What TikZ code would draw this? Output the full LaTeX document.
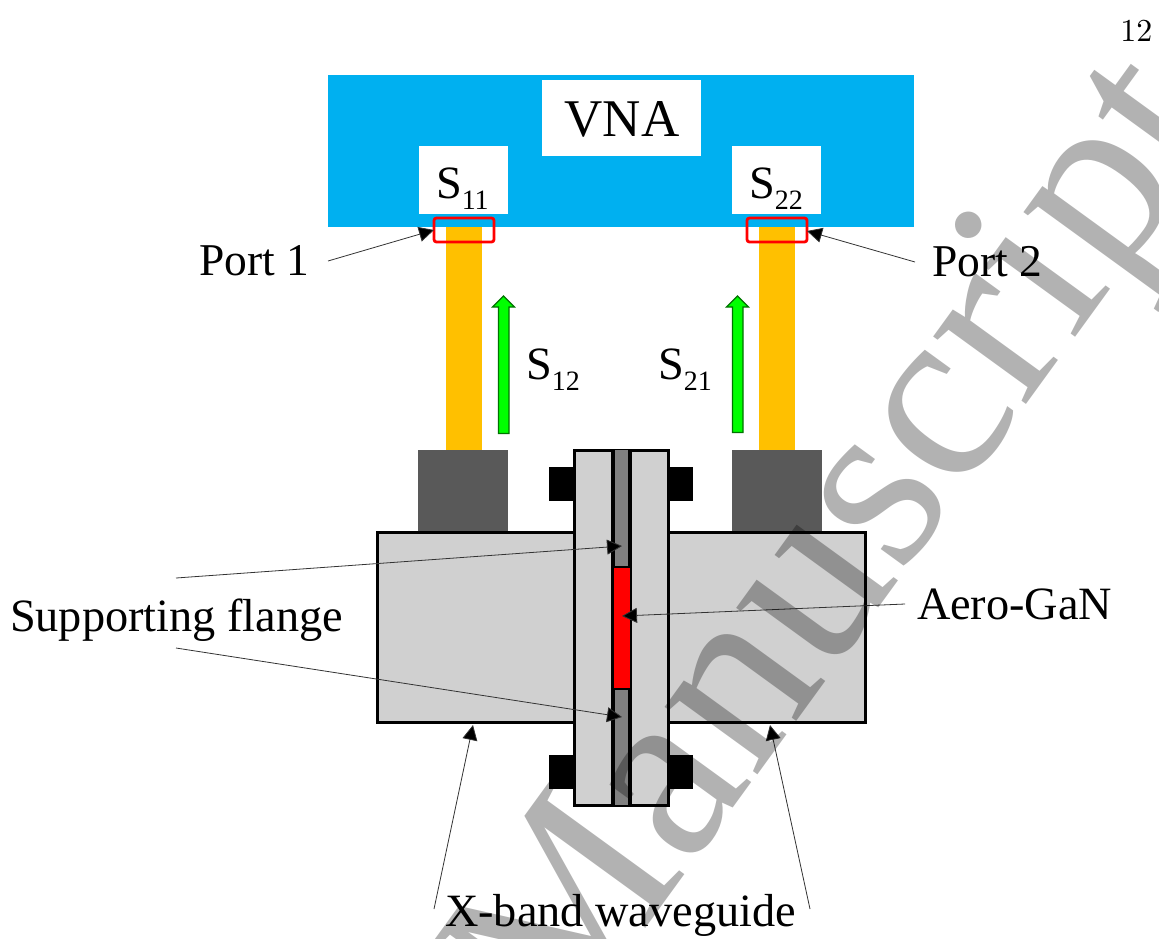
\documentclass[tikz,border=0pt]{standalone}
\usepackage{fontspec}
\newfontfamily\libser{Liberation Serif}
\usetikzlibrary{arrows.meta}
\definecolor{vnablue}{HTML}{00B0F0}
\definecolor{cableorange}{HTML}{FFC000}
\definecolor{wggray}{HTML}{D0D0D0}
\definecolor{adapter}{HTML}{595959}
\definecolor{spacer}{HTML}{808080}
\tikzset{
  x=1pt,y=-1pt,
  plain box/.style={rectangle,inner sep=0pt,outer sep=0pt,anchor=north west},
  lab/.style={inner sep=0pt,outer sep=0pt,font=\libser\fontsize{46.3}{50}\selectfont,text=black},
  portlab/.style={lab,font=\libser\fontsize{45.5}{50}\selectfont},
  lead/.style={-{Triangle[length=15pt,width=15pt,fill=black]},line width=0.8pt,draw=black!80},
  bigbox/.style={draw=black,line width=3pt,fill=wggray},
  uparrow/.style={draw=green!45!black,line width=1.2pt,fill=green},
}
\newcommand{\Sb}[2]{S\raisebox{-0.24em}{\fontsize{28}{30}\selectfont #2}}
\begin{document}
\begin{tikzpicture}
\useasboundingbox (0,0) rectangle (1159,938);
% VNA
\fill[vnablue] (328,75) rectangle (914,227);
\node[plain box,fill=white,minimum width=159pt,minimum height=76pt] (vnabox) at (542,80) {};
\node[lab,font=\libser\fontsize{53}{56}\selectfont] (vna) at (622,119) {VNA};
\node[plain box,fill=white,minimum width=89pt,minimum height=68pt] (s11box) at (419,146) {};
\node[plain box,fill=white,minimum width=89pt,minimum height=68pt] (s22box) at (732,146) {};
\node[lab,anchor=base west] (s11) at (436,198) {\Sb{S}{11}};
\node[lab,anchor=base west] (s22) at (749,198) {\Sb{S}{22}};
% cables
\fill[cableorange] (446,227) rectangle (482,450);
\fill[cableorange] (759,227) rectangle (795,450);
\node[plain box,draw=red,line width=2.8pt,rounded corners=2.5pt,minimum width=60pt,minimum height=24pt] (port1box) at (434,218) {};
\node[plain box,draw=red,line width=2.8pt,rounded corners=2.5pt,minimum width=60pt,minimum height=24pt] (port2box) at (747,218) {};
% adapters
\fill[adapter] (418,450) rectangle (508,532);
\fill[adapter] (732,450) rectangle (822,532);
% waveguide
\draw[bigbox] (377.5,532) rectangle (865.5,722);
% bolts
\fill[black] (549,467) rectangle (573,501);
\fill[black] (669,467) rectangle (693,501);
\fill[black] (549,755) rectangle (573,789);
\fill[black] (669,755) rectangle (693,789);
% flange
\draw[bigbox] (574,450) rectangle (668.5,805);
\fill[spacer] (613,450) rectangle (630,805);
\draw[black,line width=4pt] (613,450) -- (613,805);
\draw[black,line width=4pt] (630,450) -- (630,805);
\draw[draw=black,line width=2pt,fill=red] (612.5,567) rectangle (630.5,689);
% green arrows
\draw[uparrow] (498.5,433.5) -- (498.5,307) -- (492.5,307) -- (503.5,296) -- (514.5,307) -- (509,307) -- (509,433.5) -- cycle;
\draw[uparrow] (732.5,432.5) -- (732.5,307) -- (726.5,307) -- (737.5,296) -- (748.5,307) -- (743,307) -- (743,432.5) -- cycle;
% labels
\node[portlab,anchor=base west] (port1) at (199,275) {Port 1};
\node[portlab,anchor=base west] (port2) at (932,276) {Port 2};
\node[lab,anchor=base west] (s12) at (526,379) {\Sb{S}{12}};
\node[lab,anchor=base west] (s21) at (658,379) {\Sb{S}{21}};
\node[lab,anchor=base west] (flange) at (10,631) {Supporting flange};
\node[lab,anchor=base west] (gan) at (917,619) {Aero-GaN};
\node[lab,anchor=base west] (xband) at (445,926) {X-band waveguide};
\node[anchor=base east,inner sep=0pt,scale=3.2,font=\fontsize{10}{12}\selectfont] (pageno) at (1153,41) {12};
% leader ends
\coordinate (p1s) at (328,261);
\coordinate (p1t) at (434,230);
\coordinate (p2s) at (915,262);
\coordinate (p2t) at (807,231);
\coordinate (f1s) at (176,578);
\coordinate (f1t) at (622,546);
\coordinate (f2s) at (176,648);
\coordinate (f2t) at (622,717);
\coordinate (gs) at (905,604);
\coordinate (gt) at (622,616);
\coordinate (x1s) at (434,909);
\coordinate (x1t) at (473,725);
\coordinate (x2s) at (810,909);
\coordinate (x2t) at (770,725);
\draw[lead] (p1s) -- (p1t);
\draw[lead] (p2s) -- (p2t);
\draw[lead] (f1s) -- (f1t);
\draw[lead] (f2s) -- (f2t);
\draw[lead] (gs) -- (gt);
\draw[lead] (x1s) -- (x1t);
\draw[lead] (x2s) -- (x2t);
% watermark
\begin{scope}
\clip (0,0) rectangle (1159,938);
\node[inner sep=0pt,anchor=base west,rotate=54,text=black,text opacity=0.3,font=\libser\fontsize{250}{260}\selectfont] (wm) at (558,1049) {Manuscript};
\end{scope}
\end{tikzpicture}
\end{document}
